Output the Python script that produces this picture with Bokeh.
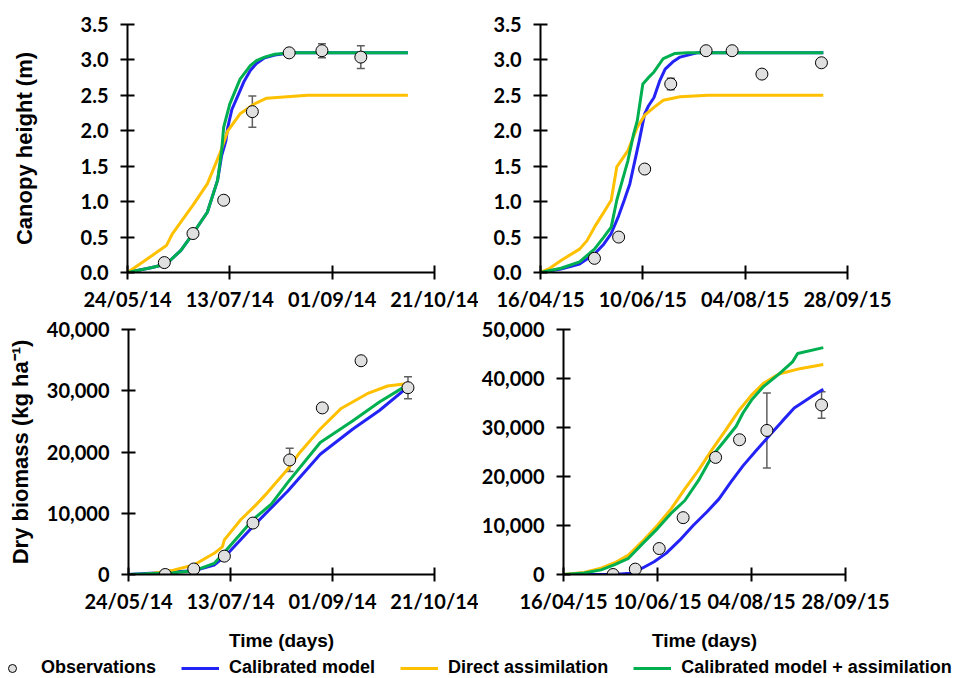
import pandas as pd
from bokeh.plotting import figure
from bokeh.layouts import column, row
from bokeh.models import (Range1d, FixedTicker, DatetimeTickFormatter, NumeralTickFormatter,
                          Whisker, ColumnDataSource, TeeHead, Legend, LegendItem)
from bokeh.embed import file_html
from bokeh.resources import INLINE

# ---------------- data ----------------
start_2014 = "2014-05-24"
end_2014 = "2014-10-21"
ticks_2014 = ["2014-05-24", "2014-07-13", "2014-09-01", "2014-10-21"]
start_2015 = "2015-04-16"
end_2015 = "2015-09-28"
ticks_2015 = ["2015-04-16", "2015-06-10", "2015-08-04", "2015-09-28"]

# observations 2014
obs14_dates = ["2014-06-11", "2014-06-25", "2014-07-10", "2014-07-24",
               "2014-08-11", "2014-08-27", "2014-09-15", "2014-10-08"]
obs14_height = [0.14, 0.55, 1.02, 2.27, 3.10, 3.13, 3.04]
obs14_height_err = [0, 0, 0, 0.22, 0, 0.10, 0.16]
obs14_biomass = [0, 900, 3000, 8400, 18700, 27200, 34900, 30500]
obs14_biomass_err = [0, 0, 300, 0, 1900, 0, 600, 1800]

# observations 2015
obs15_dates = ["2015-05-15", "2015-05-28", "2015-06-11", "2015-06-25",
               "2015-07-14", "2015-07-28", "2015-08-13", "2015-09-14"]
obs15_height = [0.20, 0.50, 1.46, 2.66, 3.13, 3.13, 2.80, 2.96]
obs15_height_err = [0, 0, 0, 0.08, 0, 0, 0, 0]
obs15_biomass = [0, 1100, 5300, 11600, 23900, 27500, 29400, 34600]
obs15_biomass_err = [0, 0, 0, 0, 0, 0, 7650, 2700]

# model curves (days since start of season, value)
h14_cal_days = [0, 12, 19, 26, 32, 39, 44, 46, 48, 49, 51, 54, 57, 60, 63, 67, 72, 80, 137]
h14_cal = [0, 0.07, 0.12, 0.31, 0.55, 0.85, 1.3, 1.65, 1.85, 2.05, 2.3, 2.5, 2.7, 2.85, 2.95, 3.03, 3.07, 3.1, 3.1]
h14_da_days = [0, 5, 11, 19, 22, 27, 32, 39, 45, 49, 55, 62, 68, 78, 88, 137]
h14_da = [0, 0.1, 0.22, 0.38, 0.55, 0.75, 0.95, 1.25, 1.67, 2.0, 2.24, 2.38, 2.46, 2.48, 2.5, 2.5]
h14_cda_days = [0, 12, 19, 26, 32, 39, 44, 46, 47, 50, 55, 60, 63, 67, 72, 80, 137]
h14_cda = [0, 0.07, 0.12, 0.31, 0.55, 0.85, 1.3, 1.72, 2.05, 2.38, 2.73, 2.92, 2.99, 3.04, 3.08, 3.1, 3.1]

h15_cal_days = [0, 11, 21, 29, 34, 38, 42, 45, 48, 50, 53, 56, 58, 61, 64, 67, 71, 75, 84, 152]
h15_cal = [0, 0.05, 0.12, 0.26, 0.4, 0.55, 0.8, 1.02, 1.25, 1.49, 1.85, 2.24, 2.35, 2.47, 2.7, 2.87, 2.97, 3.04, 3.1, 3.1]
h15_da_days = [0, 5, 11, 21, 25, 29, 34, 38, 41, 47, 52, 56, 61, 66, 75, 90, 152]
h15_da = [0, 0.06, 0.17, 0.33, 0.45, 0.64, 0.85, 1.02, 1.49, 1.72, 2.05, 2.22, 2.33, 2.43, 2.48, 2.5, 2.5]
h15_cda_days = [0, 11, 21, 29, 34, 38, 41, 44, 47, 50, 52, 55, 58, 61, 66, 72, 79, 152]
h15_cda = [0, 0.06, 0.15, 0.33, 0.5, 0.64, 1.02, 1.3, 1.58, 1.95, 2.14, 2.66, 2.75, 2.83, 3.02, 3.09, 3.1, 3.1]

b14_cal_days = [0, 32, 42, 48, 61, 78, 94, 110, 123, 137]
b14_cal = [0, 600, 1540, 3180, 7850, 13600, 19640, 23760, 26780, 30620]
b14_da_days = [0, 9, 22, 32, 42, 46, 47, 55, 62, 68, 78, 84, 94, 104, 117, 127, 137]
b14_da = [0, 55, 710, 1540, 3460, 4500, 5650, 8940, 11200, 13330, 17170, 19920, 23760, 27050, 29520, 30780, 31170]
b14_cda_days = [0, 22, 32, 42, 48, 61, 70, 78, 94, 110, 123, 137]
b14_cda = [0, 270, 600, 1810, 4000, 8940, 11500, 15000, 21560, 25100, 28150, 31000]

b15_cal_days = [0, 30, 39, 46, 53, 60, 68, 76, 84, 91, 98, 105, 113, 121, 128, 135, 145, 152]
b15_cal = [0, 0, 270, 1280, 2600, 4310, 7000, 10040, 12800, 15430, 18900, 22170, 25400, 28570, 31300, 33970, 36300, 37810]
b15_da_days = [0, 12, 22, 30, 38, 46, 55, 63, 71, 79, 87, 95, 103, 110, 117, 126, 139, 152]
b15_da = [0, 400, 1280, 2400, 3980, 6700, 10040, 13400, 17460, 21300, 25540, 29500, 33630, 36600, 39020, 40910, 42060, 42870]
b15_cda_days = [0, 12, 22, 30, 38, 46, 55, 63, 71, 79, 87, 94, 101, 105, 110, 117, 126, 134, 137, 152]
b15_cda = [0, 300, 940, 2000, 3300, 6200, 9370, 12500, 15100, 19200, 24200, 27200, 30260, 32960, 35600, 38350, 40910, 43400, 45090, 46300]

series_labels = ["Observations", "Calibrated model", "Direct assimilation", "Calibrated model + assimilation"]
colors = {"cal": "#2323F5", "da": "#FFC000", "cda": "#00B050"}

TICK_FONT = "Lato"
TITLE_FONT = "Liberation Sans"


def to_dates(start, days):
    return [pd.Timestamp(start) + pd.Timedelta(days=d) for d in days]


def ms(dates):
    return [pd.Timestamp(d).value / 1e6 for d in dates]


def make_panel(start, end, ticks, ymax, yticks, yfmt, w, h, bl, br, bt, bb, ytitle, xtitle,
               ytitle_standoff):
    p = figure(width=w, height=h, x_axis_type="datetime",
               x_range=Range1d(pd.Timestamp(start), pd.Timestamp(end)),
               y_range=Range1d(0, ymax), output_backend="svg", toolbar_location=None,
               min_border_left=bl, min_border_right=br, min_border_top=bt, min_border_bottom=bb)
    p.outline_line_color = None
    p.grid.grid_line_color = None
    p.background_fill_color = "white"
    p.xaxis.ticker = FixedTicker(ticks=ms(ticks))
    fmt = "%d/%m/%y"
    p.xaxis.formatter = DatetimeTickFormatter(microseconds=fmt, milliseconds=fmt, seconds=fmt,
                                              minsec=fmt, minutes=fmt, hourmin=fmt, hours=fmt,
                                              days=fmt, months=fmt, years=fmt)
    p.yaxis.ticker = FixedTicker(ticks=yticks)
    p.yaxis.formatter = NumeralTickFormatter(format=yfmt)
    for ax in (p.xaxis[0], p.yaxis[0]):
        ax.axis_line_color = "black"
        ax.axis_line_width = 2
        ax.major_tick_line_color = "black"
        ax.major_tick_line_width = 2
        ax.major_tick_in = 7
        ax.major_tick_out = 7
        ax.minor_tick_line_color = None
        ax.major_label_text_font = TICK_FONT
        ax.major_label_text_font_style = "bold"
        ax.major_label_text_font_size = "20px"
        ax.major_label_text_color = "black"
        ax.axis_label_text_font = TITLE_FONT
        ax.axis_label_text_font_style = "bold"
        ax.axis_label_text_color = "black"
    p.xaxis.major_label_standoff = 7
    p.yaxis.major_label_standoff = 12
    if ytitle:
        p.yaxis.axis_label = ytitle
        p.yaxis.axis_label_text_font_size = "22px"
        p.yaxis.axis_label_standoff = ytitle_standoff
    if xtitle:
        p.xaxis.axis_label = xtitle
        p.xaxis.axis_label_text_font_size = "19px"
        p.xaxis.axis_label_standoff = 14
    return p


def add_series(p, start, curves, odates, ovals, oerrs):
    for key, days, vals in curves:
        p.line(to_dates(start, days), vals, line_color=colors[key], line_width=3)
    n = len(ovals)
    dts = [pd.Timestamp(d) for d in odates[:n]]
    ed = [d for d, e in zip(dts, oerrs) if e > 0]
    ev = [v for v, e in zip(ovals, oerrs) if e > 0]
    ee = [e for e in oerrs if e > 0]
    wsrc = ColumnDataSource(dict(x=ed, upper=[v + e for v, e in zip(ev, ee)],
                                 lower=[v - e for v, e in zip(ev, ee)]))
    wk = Whisker(source=wsrc, base="x", upper="upper", lower="lower",
                 line_color="#606060", line_width=1.5,
                 upper_head=TeeHead(size=8, line_color="#606060", line_width=1.5),
                 lower_head=TeeHead(size=8, line_color="#606060", line_width=1.5))
    p.add_layout(wk)
    p.scatter(dts, ovals, size=12, fill_color="#E0E0E0", line_color="black", line_width=1)


# top-left: canopy height 2014
tl = make_panel(start_2014, end_2014, ticks_2014, 3.5, [0, 0.5, 1, 1.5, 2, 2.5, 3, 3.5], "0.0",
                478, 314, 127, 44, 24, 42, "Canopy height (m)", None, 41)
add_series(tl, start_2014, [("cal", h14_cal_days, h14_cal), ("da", h14_da_days, h14_da),
                            ("cda", h14_cda_days, h14_cda)],
           obs14_dates, obs14_height, obs14_height_err)

# top-right: canopy height 2015
tr = make_panel(start_2015, end_2015, ticks_2015, 3.5, [0, 0.5, 1, 1.5, 2, 2.5, 3, 3.5], "0.0",
                429, 314, 62, 60, 24, 42, None, None, 0)
add_series(tr, start_2015, [("cal", h15_cal_days, h15_cal), ("da", h15_da_days, h15_da),
                            ("cda", h15_cda_days, h15_cda)],
           obs15_dates, obs15_height, obs15_height_err)

# bottom-left: biomass 2014
bl = make_panel(start_2014, end_2014, ticks_2014, 40000, [0, 10000, 20000, 30000, 40000], "0,0",
                478, 340, 128, 44, 15, 80, "Dry biomass (kg ha\u207b\u00b9)", "Time (days)", 11)
add_series(bl, start_2014, [("cal", b14_cal_days, b14_cal), ("da", b14_da_days, b14_da),
                            ("cda", b14_cda_days, b14_cda)],
           obs14_dates, obs14_biomass, obs14_biomass_err)

# bottom-right: biomass 2015
br = make_panel(start_2015, end_2015, ticks_2015, 50000, [0, 10000, 20000, 30000, 40000, 50000], "0,0",
                429, 340, 60, 62, 15, 80, None, "Time (days)", 0)
add_series(br, start_2015, [("cal", b15_cal_days, b15_cal), ("da", b15_da_days, b15_da),
                            ("cda", b15_cda_days, b15_cda)],
           obs15_dates, obs15_biomass, obs15_biomass_err)

# legend strip (proxy renderers reuse the 2014 data, kept outside the strip's ranges)
lg = figure(width=963, height=24, x_range=Range1d(0, 1), y_range=Range1d(0, 1),
            toolbar_location=None, output_backend="svg", min_border=0,
            x_axis_location=None, y_axis_location=None)
lg.outline_line_color = None
lg.grid.grid_line_color = None
obs_dt = [pd.Timestamp(d) for d in obs14_dates]
r_obs = lg.scatter(obs_dt, obs14_biomass, size=12, fill_color="#E0E0E0", line_color="black", line_width=1)
r_cal = lg.line(to_dates(start_2014, b14_cal_days), b14_cal, line_color=colors["cal"], line_width=3)
r_da = lg.line(to_dates(start_2014, b14_da_days), b14_da, line_color=colors["da"], line_width=3)
r_cda = lg.line(to_dates(start_2014, b14_cda_days), b14_cda, line_color=colors["cda"], line_width=3)
legend = Legend(items=[LegendItem(label=series_labels[0], renderers=[r_obs]),
                       LegendItem(label=series_labels[1], renderers=[r_cal]),
                       LegendItem(label=series_labels[2], renderers=[r_da]),
                       LegendItem(label=series_labels[3], renderers=[r_cda])],
                orientation="horizontal", location=(-7, 0), padding=0, margin=0,
                spacing=25, glyph_width=38, glyph_height=20, label_standoff=10,
                label_text_font=TITLE_FONT, label_text_font_style="bold",
                label_text_font_size="18px", label_text_color="black",
                border_line_color=None, background_fill_alpha=0)
lg.add_layout(legend)

layout = column(row(tl, tr), row(bl, br), lg)
open("out.html", "w").write(file_html(layout, INLINE))
